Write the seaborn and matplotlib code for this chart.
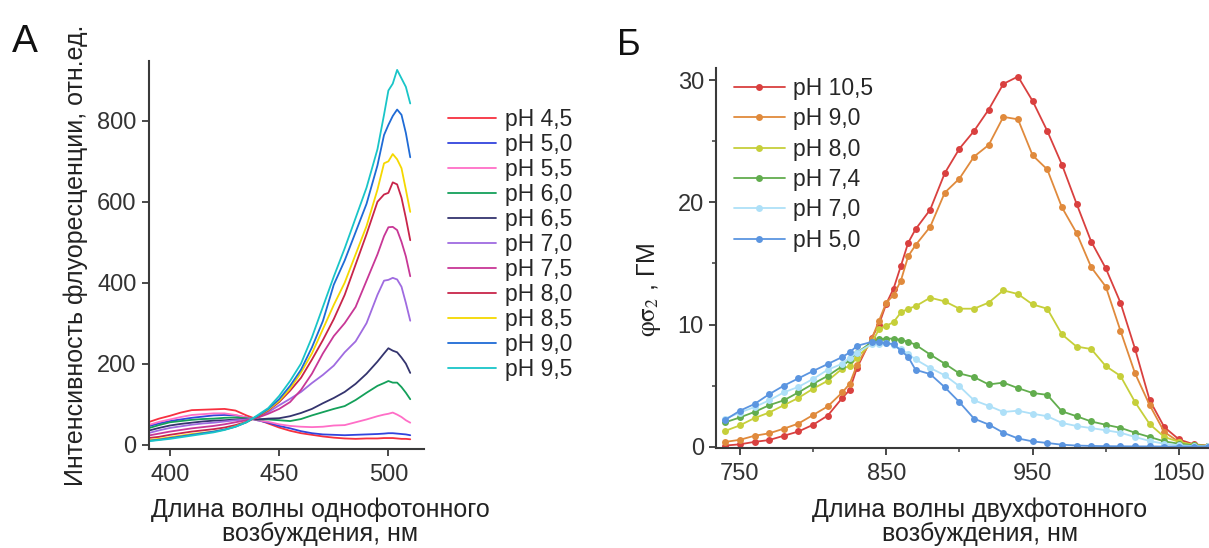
import numpy as np
import pandas as pd
import matplotlib
matplotlib.use("Agg")
import matplotlib.pyplot as plt
import seaborn as sns

# ---- panel A: one-photon excitation spectra ----
nm_a = [390, 395, 400, 405, 410, 415, 420, 425, 430, 435, 440, 445, 450, 455, 460,
        465, 470, 475, 480, 485, 490, 495, 498, 500, 502, 504, 506, 508, 510]
ph_a_labels = ["pH 4,5", "pH 5,0", "pH 5,5", "pH 6,0", "pH 6,5", "pH 7,0",
               "pH 7,5", "pH 8,0", "pH 8,5", "pH 9,0", "pH 9,5"]
ph_a_colors = ["#f7303f", "#3344dd", "#ff6ec7", "#14a05a", "#34346e", "#9f6be0",
               "#c83796", "#c8254a", "#f5d800", "#1f6bd6", "#19c5c8"]
ph45 = [55, 64, 71, 79, 85, 86, 87, 88, 84, 72, 62, 52, 42, 34, 28, 24, 20, 17, 15, 14, 15, 15, 16, 16, 16, 15, 14, 14, 13]
ph50 = [45, 52, 58, 62, 66, 69, 72, 73, 72, 67, 60, 54, 46, 40, 33, 28, 25, 24, 23, 24, 25, 26, 27, 28, 28, 27, 26, 25, 23]
ph55 = [48, 56, 62, 68, 73, 75, 77, 77, 73, 67, 60, 56, 50, 46, 44, 43, 44, 47, 48, 55, 62, 70, 74, 76, 79, 74, 68, 60, 54]
ph60 = [40, 48, 55, 58, 61, 63, 64, 66, 67, 65, 62, 62, 60, 58, 63, 72, 80, 88, 95, 110, 128, 145, 152, 157, 153, 153, 142, 128, 112]
ph65 = [34, 41, 47, 51, 54, 57, 59, 60, 62, 63, 62, 64, 65, 70, 78, 88, 102, 115, 130, 150, 175, 205, 225, 238, 232, 228, 215, 200, 177]
ph70 = [28, 35, 41, 45, 49, 52, 54, 57, 60, 62, 66, 80, 97, 113, 130, 152, 172, 195, 228, 255, 300, 370, 405, 407, 412, 408, 390, 350, 306]
ph75 = [22, 27, 32, 36, 40, 43, 46, 50, 55, 60, 66, 76, 88, 105, 135, 175, 225, 268, 300, 340, 405, 470, 515, 537, 538, 530, 501, 465, 416]
ph80 = [16, 19, 24, 28, 32, 35, 38, 42, 48, 56, 68, 84, 105, 133, 165, 210, 258, 310, 370, 445, 520, 600, 618, 622, 648, 643, 610, 560, 505]
ph85 = [11, 14, 18, 22, 26, 29, 32, 37, 45, 55, 70, 86, 108, 138, 178, 225, 285, 345, 400, 470, 540, 630, 695, 700, 718, 705, 683, 630, 575]
ph90 = [9, 12, 16, 20, 24, 28, 32, 37, 44, 55, 70, 88, 112, 145, 185, 240, 305, 395, 455, 525, 595, 690, 765, 790, 812, 828, 815, 770, 710]
ph95 = [8, 11, 14, 18, 22, 26, 30, 36, 44, 55, 72, 90, 120, 157, 200, 265, 340, 415, 485, 560, 635, 730, 815, 875, 892, 926, 905, 884, 843]
series_a = [ph45, ph50, ph55, ph60, ph65, ph70, ph75, ph80, ph85, ph90, ph95]

# ---- panel B: two-photon action cross-section ----
nm_b = [740, 750, 760, 770, 780, 790, 800, 810, 820, 825, 830, 840, 845, 850, 855,
        860, 865, 870, 880, 890, 900, 910, 920, 930, 940, 950, 960, 970, 980, 990,
        1000, 1010, 1020, 1030, 1040, 1050, 1060, 1070]
ph_b_labels = ["pH 10,5", "pH 9,0", "pH 8,0", "pH 7,4", "pH 7,0", "pH 5,0"]
ph_b_colors = ["#d9403f", "#e08a3c", "#c6cf3a", "#62ad4e", "#aee0f8", "#5b95e0"]
b105 = [0.1, 0.2, 0.4, 0.55, 0.9, 1.25, 1.8, 2.55, 4.0, 4.65, 6.45, 8.9, 10.0, 11.7, 12.95, 14.8, 16.7, 17.8,
        19.4, 22.4, 24.4, 25.85, 27.6, 29.7, 30.3, 28.3, 25.85, 23.1, 19.9, 16.8, 14.6, 11.8, 8.0, 3.8, 1.6, 0.6, 0.2, 0.1]
b90 = [0.4, 0.57, 0.9, 1.1, 1.48, 1.9, 2.6, 3.3, 4.45, 5.15, 6.7, 8.8, 10.3, 11.8, 12.4, 13.6, 15.6, 16.5,
       18.0, 20.8, 21.95, 23.75, 24.7, 27.0, 26.8, 23.85, 22.7, 19.6, 17.5, 14.7, 13.1, 9.5, 6.0, 3.4, 1.2, 0.4, 0.1, 0.05]
b80 = [1.3, 1.75, 2.35, 2.8, 3.4, 4.0, 4.75, 5.4, 6.4, 6.6, 7.3, 8.5, 9.6, 9.9, 10.2, 11.0, 11.3, 11.5,
       12.2, 11.9, 11.3, 11.3, 11.8, 12.8, 12.5, 11.65, 11.3, 9.2, 8.2, 8.0, 6.6, 5.8, 3.65, 1.85, 0.8, 0.4, 0.17, 0.07]
b74 = [2.0, 2.4, 2.85, 3.4, 3.8, 4.45, 5.15, 5.8, 6.6, 7.1, 7.7, 8.55, 8.8, 8.85, 8.85, 8.75, 8.6, 8.35,
       7.55, 6.8, 6.0, 5.7, 5.1, 5.25, 4.8, 4.4, 4.25, 2.9, 2.5, 2.07, 1.8, 1.55, 1.15, 0.8, 0.44, 0.25, 0.12, 0.07]
b70 = [2.3, 2.8, 3.25, 3.8, 4.45, 4.9, 5.55, 6.3, 6.8, 7.3, 7.7, 8.4, 8.45, 8.5, 8.3, 8.0, 7.6, 7.15,
       6.45, 5.85, 4.95, 3.8, 3.35, 2.85, 2.95, 2.7, 2.5, 1.95, 1.7, 1.53, 1.35, 1.15, 0.8, 0.47, 0.25, 0.12, 0.06, 0.03]
b50 = [2.2, 2.95, 3.5, 4.3, 5.0, 5.6, 6.2, 6.77, 7.35, 7.72, 8.26, 8.58, 8.55, 8.48, 8.4, 7.87, 7.35, 6.3,
       5.95, 4.87, 3.65, 2.3, 1.82, 1.15, 0.68, 0.44, 0.31, 0.17, 0.1, 0.07, 0.05, 0.04, 0.03, 0.03, 0.02, 0.02, 0.02, 0.02]
series_b = [b105, b90, b80, b74, b70, b50]


def long_frame(x, labels, series, yname):
    parts = [pd.DataFrame({"nm": x, yname: s, "pH": lab}) for lab, s in zip(labels, series)]
    return pd.concat(parts, ignore_index=True)


sns.set_style("ticks")
plt.rcParams["font.family"] = ["Liberation Sans", "DejaVu Sans"]
plt.rcParams["mathtext.fontset"] = "stix"
axis_col = "#3a3a3a"

fig = plt.figure(figsize=(12.09, 5.48), dpi=100)
ax_a = fig.add_axes([0.1232, 0.1807, 0.2275, 0.708])
ax_b = fig.add_axes([0.5926, 0.1825, 0.4074, 0.6934])

# panel A
df_a = long_frame(nm_a, ph_a_labels, series_a, "I")
sns.lineplot(data=df_a, x="nm", y="I", hue="pH", palette=ph_a_colors, ax=ax_a,
             linewidth=1.3, sort=False)
ax_a.set_xlim(390.4, 516.3)
ax_a.set_ylim(-11, 948)
ax_a.set_xticks([400, 450, 500])
ax_a.set_yticks([0, 200, 400, 600, 800])
ax_a.set_xlabel("Длина волны однофотонного\nвозбуждения, нм", fontsize=18, linespacing=1.0)
ax_a.set_ylabel("Интенсивность флуоресценции, отн.ед.", fontsize=18)
ax_a.xaxis.set_label_coords(0.622, -0.126)
ax_a.yaxis.set_label_coords(-0.222, 0.5)
ax_a.legend(loc="upper left", bbox_to_anchor=(1.087, 0.879), frameon=False, fontsize=16.5,
            handlelength=2.1, handletextpad=0.39, labelspacing=0.087, borderpad=0,
            borderaxespad=0)

# panel B
df_b = long_frame(nm_b, ph_b_labels, series_b, "s")
sns.lineplot(data=df_b, x="nm", y="s", hue="pH", palette=ph_b_colors, ax=ax_b,
             linewidth=1.3, marker="o", markersize=5, markeredgewidth=0, sort=False)
ax_b.set_xlim(734, 1070.5)
ax_b.set_ylim(-0.1, 31)
ax_b.set_xticks([750, 850, 950, 1050])
ax_b.set_xticks([800, 900, 1000], minor=True)
ax_b.set_yticks([0, 10, 20, 30])
ax_b.set_yticks([5, 15, 25], minor=True)
ax_b.set_xlabel("Длина волны двухфотонного\nвозбуждения, нм", fontsize=18, linespacing=1.0)
ax_b.set_ylabel(r"$\mathrm{φσ}_2$ , ГМ", fontsize=18)
ax_b.xaxis.set_label_coords(0.535, -0.13)
ax_b.yaxis.set_label_coords(-0.108, 0.416)
ax_b.legend(loc="upper left", bbox_to_anchor=(0.035, 0.976), frameon=False, fontsize=16.5,
            handlelength=2.25, handletextpad=0.35, labelspacing=0.32, borderpad=0,
            borderaxespad=0)

for ax in (ax_a, ax_b):
    sns.despine(ax=ax)
    for side in ("left", "bottom"):
        ax.spines[side].set_color(axis_col)
        ax.spines[side].set_linewidth(1.5)
    ax.tick_params(which="major", direction="out", length=5, width=1.3,
                   color=axis_col, labelsize=17, labelcolor="#333333")
    ax.tick_params(which="minor", direction="out", length=3, width=1.1, color=axis_col)
    ax.tick_params(axis="x", pad=6)
    ax.tick_params(axis="y", pad=4)
    ax.xaxis.label.set_color("#222222")
    ax.yaxis.label.set_color("#222222")

fig.text(0.0095, 0.905, "А", fontsize=28, color="#111111", ha="left", va="baseline")
fig.text(0.510, 0.8996, "Б", fontsize=26, color="#111111", ha="left", va="baseline")

fig.savefig("out.png", dpi=100, facecolor="white")
